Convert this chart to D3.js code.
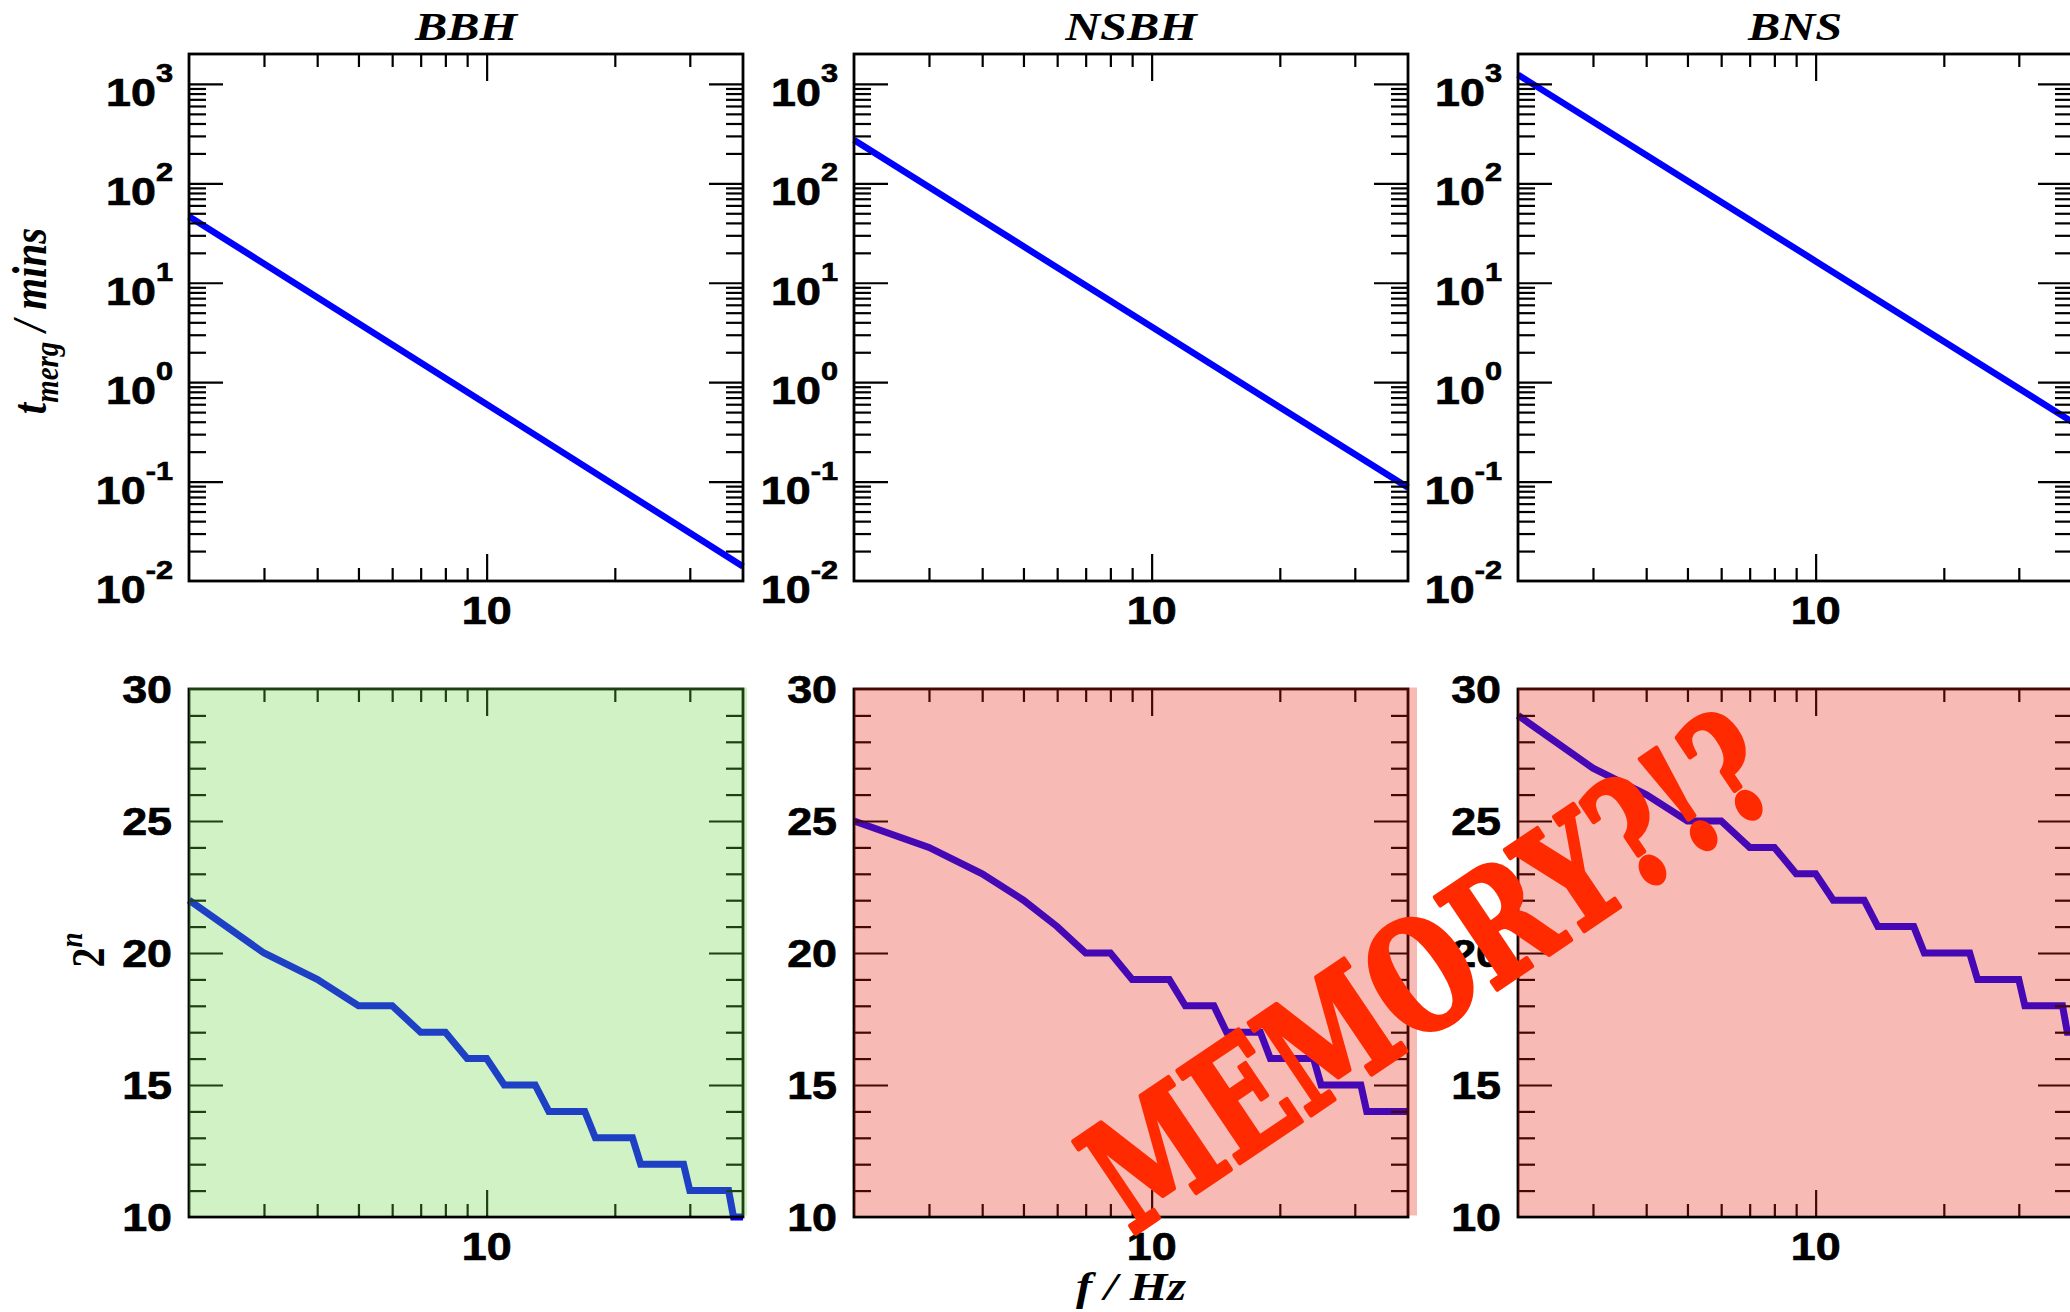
<!DOCTYPE html>
<html>
<head>
<meta charset="utf-8">
<script src="https://cdn.jsdelivr.net/npm/d3@7"></script>
<style>
  body { margin: 0; background: #fff; }
  svg { display: block; }
  .num { font-family: "Liberation Sans", Arial, sans-serif; font-weight: 700; font-size: 38px; fill: #000; stroke: #000; stroke-width: 0.7px; }
  .ital { font-family: "Liberation Serif", "Times New Roman", serif; font-weight: 700; font-style: italic; font-size: 41px; fill: #000; }
</style>
</head>
<body>
<div id="chart"></div>
<script>
// 2x3 grid: merger time (top, log-log) and FFT size exponent (bottom) per source type
const W = 2070, H = 1312;
const SX = 1.18; // original figure is stretched sideways, text too

const panelNames = ['BBH', 'NSBH', 'BNS'];
const panelTints = ['rgb(98,212,62)', 'rgb(232,28,8)', 'rgb(232,28,8)'];

// top row: t_merg in minutes vs starting frequency
const mergFreq = [2, 10, 40];
const mergBBH = [46.5, 0.6, 0.014];
const mergNSBH = [273, 3.6, 0.087];
const mergBNS = [1237, 16.5, 0.40];

// bottom row: exponent n of 2^n samples, one value per integer Hz
const bitFreq = [2, 3, 4, 5, 6, 7, 8, 9, 10, 11, 12, 13, 14, 15, 16, 17, 18, 19, 20, 21,
  22, 23, 24, 25, 26, 27, 28, 29, 30, 31, 32, 33, 34, 35, 36, 37, 38, 39, 40];
const bitsBBH = [22, 20, 19, 18, 18, 17, 17, 16, 16, 15, 15, 15, 14, 14, 14, 14, 13, 13, 13, 13,
  13, 12, 12, 12, 12, 12, 12, 12, 11, 11, 11, 11, 11, 11, 11, 11, 10, 10, 10];
const bitsNSBH = [25, 24, 23, 22, 21, 20, 20, 19, 19, 19, 18, 18, 18, 17, 17, 17, 17, 16, 16, 16,
  16, 16, 16, 15, 15, 15, 15, 15, 15, 15, 14, 14, 14, 14, 14, 14, 14, 14, 14];
const bitsBNS = [29, 27, 26, 25, 25, 24, 24, 23, 23, 22, 22, 22, 21, 21, 21, 21, 20, 20, 20, 20,
  20, 20, 19, 19, 19, 19, 19, 19, 19, 18, 18, 18, 18, 18, 18, 18, 18, 17, 17];

// tick labels
const decadeExp = ['-2', '-1', '0', '1', '2', '3'];
const bitTicks = [10, 15, 20, 25, 30];
const freqLabels = [10];

const stamp = 'MEMORY?!?';

// layout
const colX = [189, 854, 1518], PW = 554;
const rows = [
  { y0: 54, y1: 581, y: d3.scaleLog().domain([0.01, 2000]), freq: mergFreq,
    series: [mergBBH, mergNSBH, mergBNS], major: v => Math.abs(Math.log10(v) % 1) < 1e-9 },
  { y0: 689, y1: 1217, y: d3.scaleLinear().domain([10, 30]), freq: bitFreq,
    series: [bitsBBH, bitsNSBH, bitsBNS], major: v => v % 5 === 0, tint: true }
];

const svg = d3.select('#chart').append('svg')
  .attr('width', W).attr('height', H).attr('viewBox', `0 0 ${W} ${H}`);

function stretched(g, x, y, cls) {
  return g.append('text').attr('class', cls)
    .attr('transform', `translate(${x},${y}) scale(${SX},1)`);
}

function tickSet(g, axis, vals, len, tr) {
  g.append('g').attr('transform', tr)
    .call(axis.tickValues(vals).tickSize(-len).tickSizeOuter(0).tickFormat(''))
    .call(a => a.select('.domain').remove())
    .call(a => a.selectAll('line').attr('stroke', '#000').attr('stroke-width', 2.2));
}

rows.forEach((row, r) => {
  colX.forEach((x0, i) => {
    const x1 = x0 + PW;
    const x = d3.scaleLog().domain([2, 40]).range([x0, x1]);
    const y = row.y.copy().range([row.y1, row.y0]);
    const g = svg.append('g');

    g.append('path')
      .datum(d3.zip(row.freq, row.series[i]))
      .attr('d', d3.line().x(d => x(d[0])).y(d => y(d[1])))
      .attr('fill', 'none')
      .attr('stroke', '#0000ff')
      .attr('stroke-width', r === 0 ? 6.5 : 7);

    g.append('rect')
      .attr('x', x0).attr('y', row.y0)
      .attr('width', PW).attr('height', row.y1 - row.y0)
      .attr('fill', 'none').attr('stroke', '#000').attr('stroke-width', 2.8);

    // ticks point inward on all four sides
    const xs = x.ticks().filter(v => v > 2 && v < 40);
    const xMinor = xs.filter(v => v !== 10), xMajor = xs.filter(v => v === 10);
    tickSet(g, d3.axisBottom(x), xMinor, 13, `translate(0,${row.y1})`);
    tickSet(g, d3.axisBottom(x), xMajor, 27, `translate(0,${row.y1})`);
    tickSet(g, d3.axisTop(x), xMinor, 13, `translate(0,${row.y0})`);
    tickSet(g, d3.axisTop(x), xMajor, 27, `translate(0,${row.y0})`);

    const ys = (r === 0 ? y.ticks() : d3.range(11, 30)).filter(v => v > y.domain()[0] && v < y.domain()[1]);
    const yMinor = ys.filter(v => !row.major(v));
    const yMajor = ys.filter(v => row.major(v));
    tickSet(g, d3.axisLeft(y), yMinor, 17, `translate(${x0},0)`);
    tickSet(g, d3.axisLeft(y), yMajor, 34, `translate(${x0},0)`);
    tickSet(g, d3.axisRight(y), yMinor, 17, `translate(${x1},0)`);
    tickSet(g, d3.axisRight(y), yMajor, 34, `translate(${x1},0)`);

    // y tick labels
    if (r === 0) {
      decadeExp.forEach(e => {
        const t = stretched(g, x0 - 16, y(Math.pow(10, +e)) + 22, 'num').attr('text-anchor', 'end');
        t.append('tspan').text('10');
        t.append('tspan').attr('font-size', 26).attr('dy', -24).text(e);
      });
    } else {
      bitTicks.forEach(v => {
        stretched(g, x0 - 17, y(v) + 14, 'num').attr('text-anchor', 'end').text(v);
      });
    }
    freqLabels.forEach(v => {
      stretched(g, x(v), row.y1 + 43, 'num').attr('text-anchor', 'middle').text(v);
    });

    if (r === 0) {
      stretched(g, (x0 + x1) / 2, 40, 'ital').attr('text-anchor', 'middle')
        .attr('font-size', 43).text(panelNames[i]);
    }

    // translucent verdict wash over the lower panels
    if (row.tint) {
      g.append('rect')
        .attr('x', x0).attr('y', row.y0 - 1.5)
        .attr('width', PW + (i === 0 ? 4 : 9)).attr('height', row.y1 - row.y0)
        .attr('fill', panelTints[i]).attr('opacity', 0.3);
    }
  });
});

// axis titles
const yt = svg.append('text').attr('class', 'ital').attr('text-anchor', 'middle')
  .attr('transform', `translate(46,321) scale(${SX},1) rotate(-90)`);
yt.append('tspan').text('t');
yt.append('tspan').attr('font-size', 29).attr('dy', 10).text('merg');
yt.append('tspan').attr('dy', -10).text(' / mins');

const yb = svg.append('text').attr('class', 'ital').attr('text-anchor', 'middle')
  .attr('transform', `translate(104,950) scale(${SX},1) rotate(-90)`);
yb.append('tspan').attr('font-style', 'normal').attr('font-size', 40).text('2');
yb.append('tspan').attr('font-size', 27).attr('dy', -19).text('n');

stretched(svg, 1131, 1300, 'ital').attr('font-size', 43).attr('text-anchor', 'middle').text('f / Hz');

// the stamp
svg.append('text')
  .attr('transform', 'translate(1428,970) rotate(-34)')
  .attr('text-anchor', 'middle').attr('dy', '0.36em')
  .attr('font-family', '"DejaVu Serif", serif').attr('font-weight', 700)
  .attr('font-size', 152).attr('fill', '#ff2a00')
  .attr('stroke', '#ff2a00').attr('stroke-width', 5).attr('stroke-linejoin', 'round')
  .attr('textLength', 790).attr('lengthAdjust', 'spacingAndGlyphs')
  .text(stamp);
</script>
</body>
</html>
